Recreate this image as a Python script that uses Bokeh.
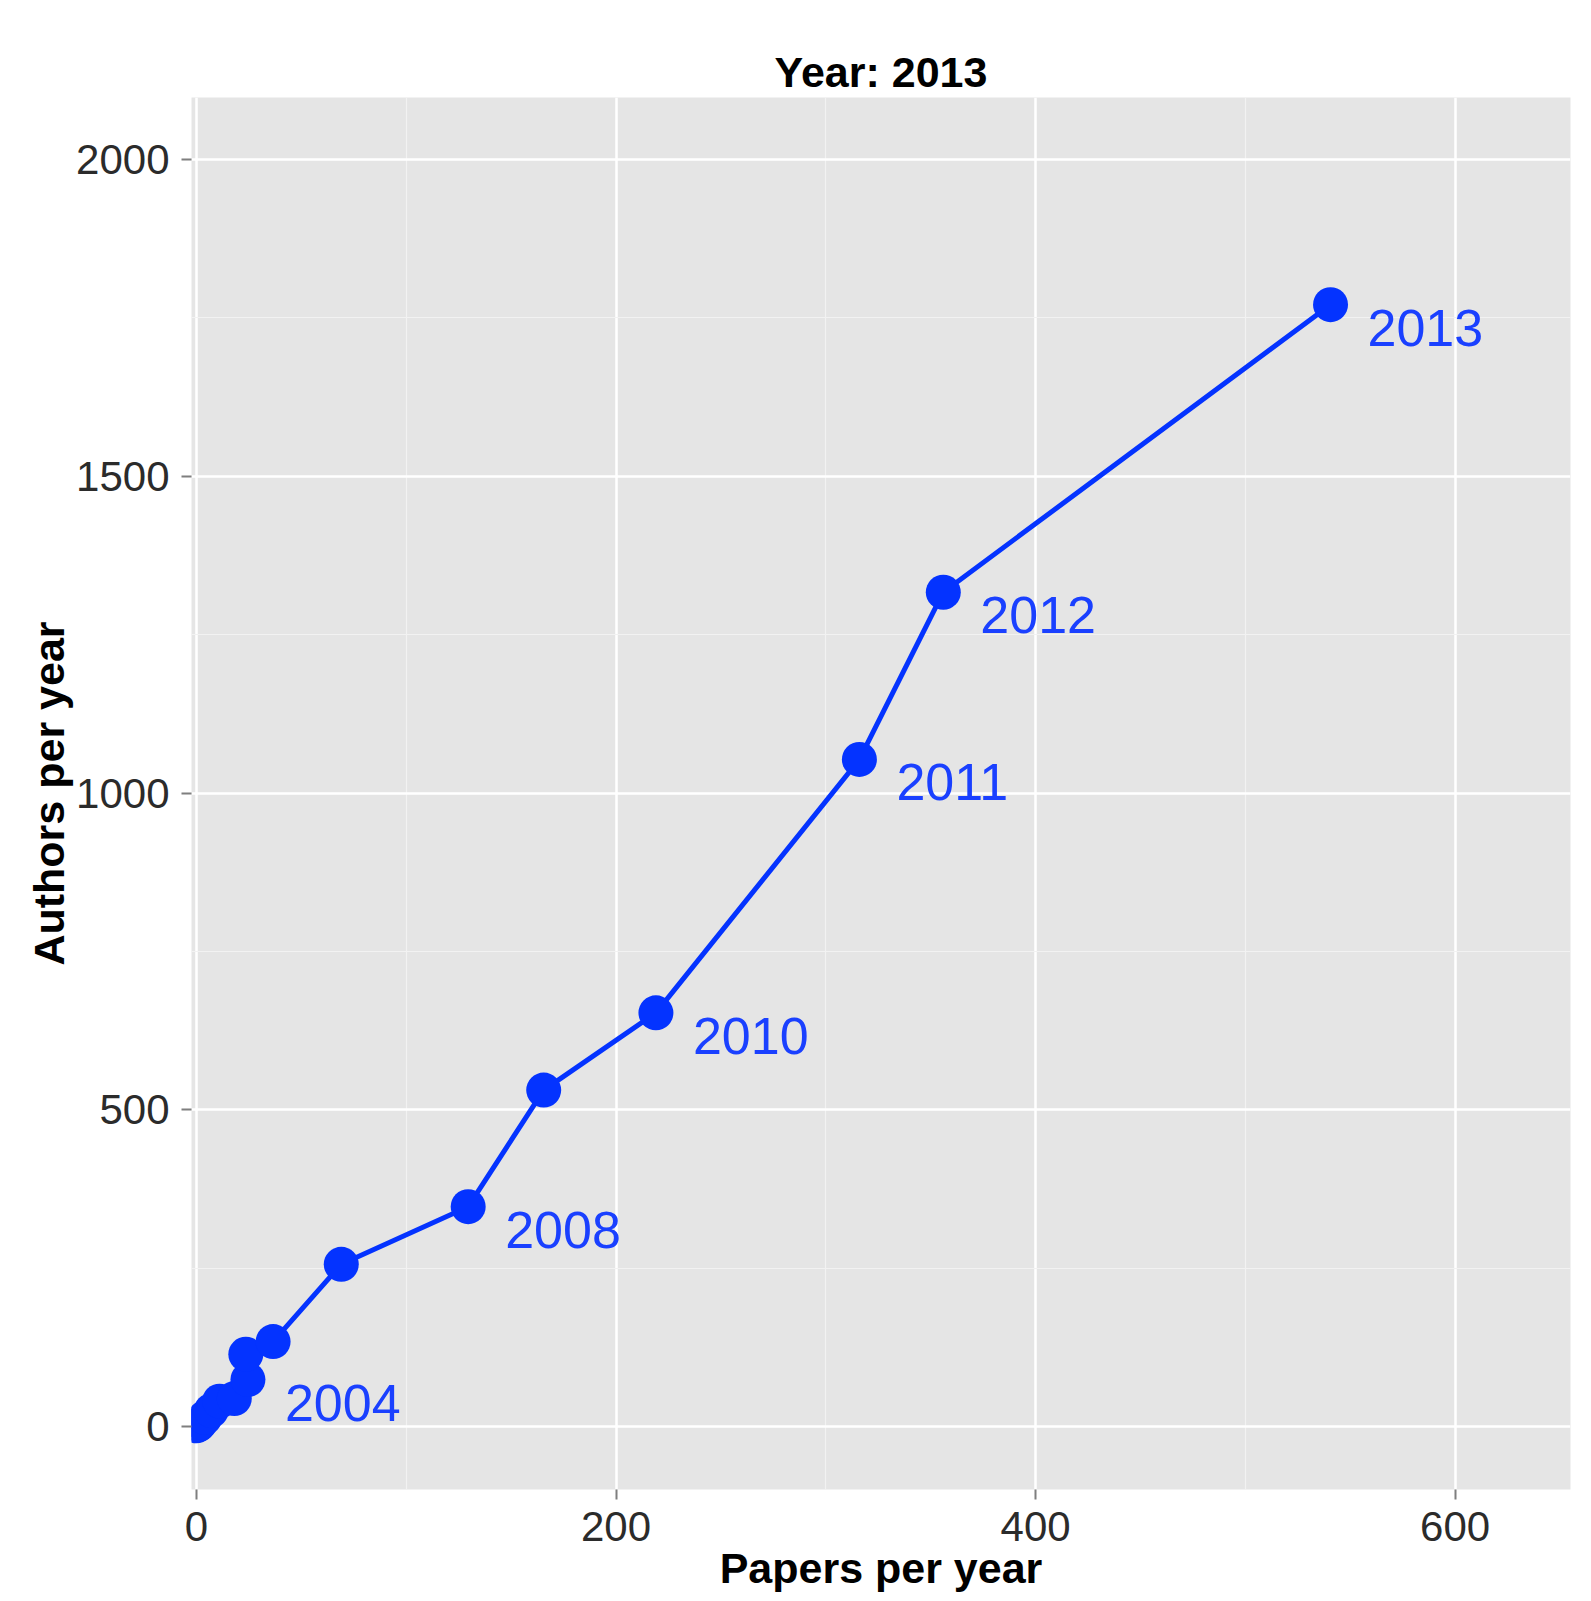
from bokeh.plotting import figure
from bokeh.models import ColumnDataSource, FixedTicker, Range1d
from bokeh.core.properties import value
from bokeh.embed import file_html
from bokeh.resources import INLINE

# ---- data ----
years = [1997, 1998, 1999, 2000, 2001, 2002, 2003, 2004, 2005, 2006, 2007, 2008, 2009, 2010, 2011, 2012, 2013]
papers = [0, 1, 2, 4, 7, 11, 18, 24.5, 23.5, 36.5, 69, 129.5, 165.5, 219, 316, 356, 540.6]
authors = [1, 3, 7, 14, 25, 40, 44, 74, 114, 134, 256, 347, 531, 653, 1053, 1317, 1771]
label_years = [2004, 2008, 2010, 2011, 2012, 2013]

x_ticks = [0, 200, 400, 600]
x_minor = [100, 300, 500]
y_ticks = [0, 500, 1000, 1500, 2000]
y_minor = [250, 750, 1250, 1750]

BLUE = "#0433FF"
FONT = "Liberation Sans"

src = ColumnDataSource(dict(x=papers, y=authors, year=[str(v) for v in years]))
lab_idx = [years.index(v) for v in label_years]
lab_src = ColumnDataSource(dict(
    x=[papers[i] for i in lab_idx],
    y=[authors[i] for i in lab_idx],
    t=[str(years[i]) for i in lab_idx],
))

p = figure(width=1576, height=1594, output_backend="svg", toolbar_location=None,
           x_range=Range1d(-2.4, 655), y_range=Range1d(-99.5, 2098),
           min_border_left=191, min_border_right=6, min_border_top=97, min_border_bottom=105)

p.background_fill_color = "#E5E5E5"
p.border_fill_color = "white"
p.outline_line_color = None

p.title.text = "Year: 2013"
p.title.align = "center"
p.title.text_font = FONT
p.title.text_font_size = "43px"
p.title.text_font_style = "bold"
p.title.text_color = "black"
p.title.standoff = 4

p.xaxis.ticker = FixedTicker(ticks=x_ticks, minor_ticks=x_minor)
p.yaxis.ticker = FixedTicker(ticks=y_ticks, minor_ticks=y_minor)

for ax in (p.xaxis, p.yaxis):
    ax.axis_line_color = None
    ax.major_tick_line_color = "#7F7F7F"
    ax.major_tick_line_width = 2
    ax.major_tick_out = 10
    ax.major_tick_in = 0
    ax.minor_tick_line_color = None
    ax.major_label_text_font = FONT
    ax.major_label_text_font_size = "42px"
    ax.major_label_text_color = "#2B2B2B"
    ax.major_label_standoff = 12
    ax.axis_label_text_font = FONT
    ax.axis_label_text_font_size = "43px"
    ax.axis_label_text_font_style = "bold"
    ax.axis_label_text_color = "black"

p.xaxis.axis_label = "Papers per year"
p.yaxis.axis_label = "Authors per year"
p.xaxis.axis_label_standoff = 0
p.yaxis.axis_label_standoff = 0
p.yaxis.major_label_orientation = "horizontal"

p.grid.grid_line_color = "white"
p.grid.grid_line_width = 2.5
p.grid.minor_grid_line_color = "#F2F2F2"
p.grid.minor_grid_line_width = 1.2

p.line("x", "y", source=src, line_color=BLUE, line_width=5)
p.scatter("x", "y", source=src, size=35, fill_color=BLUE, line_color=BLUE, line_width=0)
p.text("x", "y", text="t", source=lab_src, x_offset=37, y_offset=23,
       text_font=value(FONT), text_font_size="52px", text_color="#1A40FF",
       text_align="left", text_baseline="middle")

open("out.html", "w").write(file_html(p, INLINE))
